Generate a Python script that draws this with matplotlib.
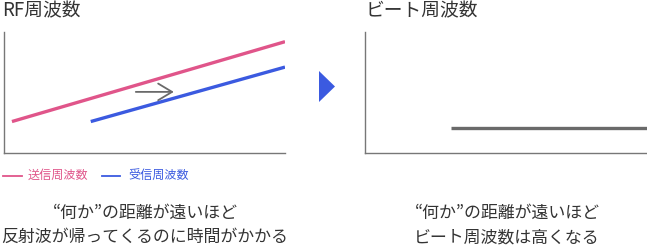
import matplotlib
matplotlib.use("Agg")
import matplotlib.pyplot as plt
from matplotlib.lines import Line2D
from matplotlib.patches import Polygon

plt.rcParams['font.family'] = ['Noto Sans CJK JP', 'DejaVu Sans']

# ---- data ----
tx_time = [0.3, 10.0]
tx_freq = [2.6, 9.2]
rx_time = [3.1, 10.0]
rx_freq = [2.6, 7.1]
beat_time = [3.05, 10.0]
beat_freq = [2.05, 2.05]
shift_from = (4.7, 5.05)
shift_to = (6.05, 5.05)

left_title = "RF周波数"
right_title = "ビート周波数"
legend_labels = ["送信周波数", "受信周波数"]
left_caption = ["“何か”の距離が遠いほど", "反射波が帰ってくるのに時間がかかる"]
right_caption = ["“何か”の距離が遠いほど", "ビート周波数は高くなる"]

PINK = "#e0558a"
BLUE = "#3b5ae0"
GRAY = "#6a6a6a"
TEXT = "#333333"

W, H = 647, 246
fig = plt.figure(figsize=(W / 100, H / 100), dpi=100)


def fx(x):
    return x / W


def fy(y):
    return 1 - y / H


def make_axes(x0, x1, y0, y1):
    ax = fig.add_axes([fx(x0), fy(y1), (x1 - x0) / W, (y1 - y0) / H])
    ax.set_xlim(0, 10)
    ax.set_ylim(0, 10)
    for s in ("top", "right"):
        ax.spines[s].set_visible(False)
    for s in ("left", "bottom"):
        ax.spines[s].set_color("#777777")
        ax.spines[s].set_linewidth(1.0)
    ax.set_xticks([])
    ax.set_yticks([])
    ax.patch.set_alpha(0)
    return ax


axL = make_axes(3.5, 285, 32, 153)
axL.plot(tx_time, tx_freq, color=PINK, lw=2.4, solid_capstyle="butt")
axL.plot(rx_time, rx_freq, color=BLUE, lw=2.4, solid_capstyle="butt")
axL.annotate("", xy=shift_to, xytext=shift_from,
             arrowprops=dict(arrowstyle="->,head_length=0.5,head_width=0.3", color=GRAY, lw=1.3,
                             mutation_scale=20, shrinkA=0, shrinkB=0))

axR = make_axes(365.5, 660, 32, 153)
axR.set_xlim(0, 10 * (660 - 365.5) / (647 - 365.5))
axR.plot(beat_time, beat_freq, color=GRAY, lw=2.4, solid_capstyle="butt")

# titles
fig.text(fx(2), fy(10.5), left_title, fontsize=13.5, color=TEXT, va="center", ha="left")
fig.text(fx(366), fy(10.5), right_title, fontsize=13.5, color=TEXT, va="center", ha="left")

# triangle between panels
fig.patches.append(Polygon([(fx(319), fy(71)), (fx(319), fy(102)), (fx(335), fy(86.5))],
                           closed=True, transform=fig.transFigure, color=BLUE, lw=0))

# legend
legend_items = [(3, 22, 28, PINK, legend_labels[0]), (102, 120, 128, BLUE, legend_labels[1])]
for xa, xb, xt, c, lab in legend_items:
    fig.add_artist(Line2D([fx(xa), fx(xb)], [fy(175.5), fy(175.5)], color=c, lw=1.3,
                          transform=fig.transFigure))
    fig.text(fx(xt), fy(175.5), lab, fontsize=8.7, color=c, va="center", ha="left")

# captions
for i, line in enumerate(left_caption):
    fig.text(fx(145), fy(213 + 24 * i), line, fontsize=12.2, color=TEXT, ha="center", va="center")
for i, line in enumerate(right_caption):
    fig.text(fx(507), fy(213 + 24 * i), line, fontsize=12.2, color=TEXT, ha="center", va="center")

fig.savefig("out.png", dpi=100, facecolor="white")
